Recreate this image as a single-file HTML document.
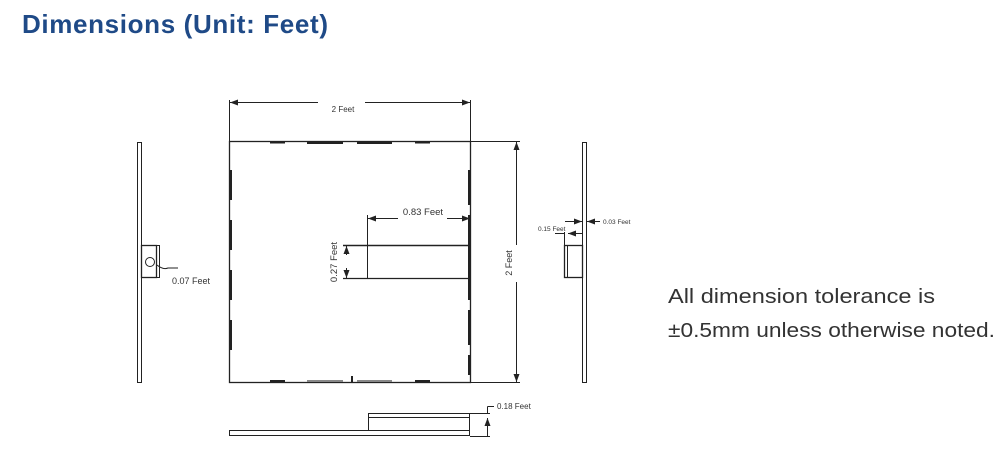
<!DOCTYPE html>
<html><head><meta charset="utf-8"><style>
html,body{margin:0;padding:0;background:#fff;width:1000px;height:474px;overflow:hidden}
svg{display:block}
</style></head><body>
<svg width="1000" height="474" viewBox="0 0 1000 474" xmlns="http://www.w3.org/2000/svg" font-family="Liberation Sans, Arial, sans-serif">
<defs>
<marker id="a" markerWidth="8" markerHeight="6" refX="8" refY="3" orient="auto-start-reverse" markerUnits="userSpaceOnUse"><path d="M0,0 L8,3 L0,6z" fill="#222"/></marker>
</defs>
<text x="22" y="33" font-size="26" font-weight="bold" fill="#1f4a87" textLength="306">Dimensions (Unit: Feet)</text>

<g stroke="#222" fill="none" stroke-width="1">
<rect x="229.5" y="141.5" width="241" height="241" stroke-width="1.3"/>
<line x1="229.5" y1="100" x2="229.5" y2="141"/>
<line x1="470.5" y1="100" x2="470.5" y2="141"/>
<line x1="230" y1="102.5" x2="318" y2="102.5" marker-start="url(#a)"/>
<line x1="365" y1="102.5" x2="470" y2="102.5" marker-end="url(#a)"/>
<line x1="470" y1="141.5" x2="520" y2="141.5"/>
<line x1="470" y1="382.5" x2="520" y2="382.5"/>
<line x1="516.5" y1="142" x2="516.5" y2="245" marker-start="url(#a)"/>
<line x1="516.5" y1="282" x2="516.5" y2="382" marker-end="url(#a)"/>
<line x1="343" y1="245.5" x2="470" y2="245.5" stroke-width="1.5"/>
<line x1="343" y1="278.5" x2="470" y2="278.5" stroke-width="1.3"/>
<line x1="367.5" y1="215" x2="367.5" y2="278"/>
<line x1="368" y1="218.5" x2="398" y2="218.5" marker-start="url(#a)"/>
<line x1="447" y1="218.5" x2="470" y2="218.5" marker-end="url(#a)"/>
<line x1="346.5" y1="246" x2="346.5" y2="255" marker-start="url(#a)"/>
<line x1="346.5" y1="268" x2="346.5" y2="278" marker-end="url(#a)"/>
<g stroke-width="2">
<line x1="469" y1="170" x2="469" y2="205"/><line x1="469" y1="215" x2="469" y2="300"/><line x1="469" y1="310" x2="469" y2="345"/><line x1="469" y1="355" x2="469" y2="375"/>
<line x1="231" y1="170" x2="231" y2="200"/><line x1="231" y1="220" x2="231" y2="250"/><line x1="231" y1="270" x2="231" y2="300"/><line x1="231" y1="320" x2="231" y2="350"/>
<line x1="307" y1="143" x2="343" y2="143"/><line x1="357" y1="143" x2="392" y2="143"/>
<line x1="270" y1="142.5" x2="285" y2="142.5"/><line x1="415" y1="142.5" x2="430" y2="142.5"/>
<line x1="270" y1="381" x2="285" y2="381"/><line x1="415" y1="381" x2="430" y2="381"/>
<line x1="307" y1="381" x2="343" y2="381" stroke="#888"/><line x1="357" y1="381" x2="392" y2="381" stroke="#888"/>
<line x1="352" y1="376" x2="352" y2="382"/>
</g>
<rect x="137.5" y="142.5" width="4" height="240"/>
<rect x="141.5" y="245.5" width="15" height="32" stroke-width="1.3"/>
<rect x="156.5" y="245.5" width="3" height="32"/>
<circle cx="150" cy="262" r="4.5"/>
<path d="M157,265 Q163,270 168,268 L178,268"/>
<rect x="582.5" y="142.5" width="4" height="240"/>
<rect x="564.5" y="245.5" width="18" height="32" stroke-width="1.3"/>
<line x1="567.5" y1="246" x2="567.5" y2="277"/>
<line x1="565" y1="221.5" x2="582" y2="221.5" marker-end="url(#a)"/>
<line x1="600" y1="221.5" x2="587" y2="221.5" marker-end="url(#a)"/>
<line x1="564.5" y1="232" x2="564.5" y2="246"/>
<line x1="555" y1="233.5" x2="564" y2="233.5"/>
<line x1="568" y1="233.5" x2="582" y2="233.5" marker-start="url(#a)"/>
<rect x="229.5" y="430.5" width="240" height="5"/>
<rect x="368.5" y="413.5" width="101" height="17"/>
<line x1="368" y1="417.5" x2="470" y2="417.5"/>
<line x1="470" y1="413.5" x2="490" y2="413.5"/>
<line x1="470" y1="436.5" x2="490" y2="436.5"/>
<line x1="487.5" y1="406.5" x2="487.5" y2="413"/>
<line x1="487.5" y1="406.5" x2="494" y2="406.5"/>
<line x1="487.5" y1="418" x2="487.5" y2="436" marker-start="url(#a)"/>
</g>
<g fill="#333" font-size="8">
<text x="343" y="112" text-anchor="middle">2 Feet</text>
<text x="423" y="215" text-anchor="middle" font-size="9.5">0.83 Feet</text>
<text transform="translate(337,262) rotate(-90)" text-anchor="middle" font-size="9.5">0.27 Feet</text>
<text transform="translate(512,263) rotate(-90)" text-anchor="middle" font-size="9">2 Feet</text>
<text x="172" y="284" font-size="9">0.07 Feet</text>
<text x="603" y="224" font-size="6.5">0.03 Feet</text>
<text x="538" y="231" font-size="6.5">0.15 Feet</text>
<text x="497" y="409" font-size="8">0.18 Feet</text>
</g>
<text x="668" y="303" font-size="20" fill="#333" textLength="267" lengthAdjust="spacingAndGlyphs">All dimension tolerance is</text>
<text x="668" y="337" font-size="20" fill="#333" textLength="327" lengthAdjust="spacingAndGlyphs">±0.5mm unless otherwise noted.</text>
</svg>
</body></html>
